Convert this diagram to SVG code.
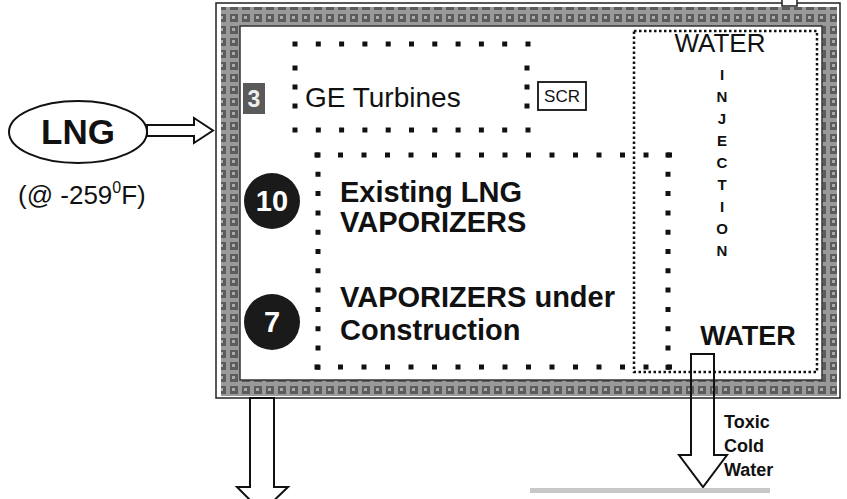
<svg xmlns="http://www.w3.org/2000/svg" width="847" height="499" viewBox="0 0 847 499">
<defs>
<pattern id="bandpat" width="12" height="12" patternUnits="userSpaceOnUse">
<rect width="12" height="12" fill="#9a9a9a"/>
<rect x="2" y="2" width="8" height="8" fill="#5c5c5c"/>
<rect x="4" y="4" width="3" height="3" fill="#aaaaaa"/>
</pattern>
</defs>
<style>
text{font-family:"Liberation Sans",Arial,sans-serif;fill:#111}
.b{font-weight:bold}
.big{stroke:#111;stroke-width:5;fill:none}
.dot{fill:#111}
.ln{fill:none;stroke:#111;stroke-width:2}
.arrow{fill:#fff;stroke:#111;stroke-width:2;stroke-linejoin:miter}
</style>
<rect width="847" height="499" fill="#fff"/>

<g id="frame">
<rect x="216" y="3" width="624" height="395" fill="none" stroke="#222" stroke-width="1.5"/>
<path d="M221 7H837V396H221Z M240 26V380H822V26Z" fill="url(#bandpat)" fill-rule="evenodd"/>
<rect x="240" y="26" width="582" height="354" fill="#fff" stroke="#333" stroke-width="1.5"/>
<rect x="782" y="-1" width="15" height="7" fill="#fff" stroke="#222" stroke-width="1.5"/>
</g>

<g id="lng">
<ellipse cx="78" cy="132" rx="69" ry="31" fill="#fff" stroke="#111" stroke-width="2"/>
<text x="78" y="144" class="b" font-size="35" text-anchor="middle">LNG</text>
</g>

<g id="temperature">
<text x="18" y="204" font-size="26">(@ -259<tspan font-size="16" dy="-11">0</tspan><tspan dy="11">F)</tspan></text>
</g>

<g id="ge-turbines">
<rect x="243" y="83" width="22" height="31" fill="#5a5a5a"/>
<text x="254" y="107" class="b" font-size="23" text-anchor="middle" style="fill:#eee">3</text>
<path class="big" d="M292.5 44H531M292.5 130H531" stroke-dasharray="5 18.3"/>
<rect class="dot" x="292.5" y="65.5" width="5" height="5"/>
<rect class="dot" x="292.5" y="84.5" width="5" height="5"/>
<rect class="dot" x="292.5" y="103.5" width="5" height="5"/>
<rect class="dot" x="524.5" y="65.5" width="5" height="5"/>
<rect class="dot" x="524.5" y="84.5" width="5" height="5"/>
<rect class="dot" x="524.5" y="103.5" width="5" height="5"/>
<text x="305" y="107" font-size="28">GE Turbines</text>
</g>

<g id="scr">
<rect x="538" y="82" width="48" height="28" fill="#fff" stroke="#111" stroke-width="1.8"/>
<text x="562" y="102" font-size="17" text-anchor="middle">SCR</text>
</g>

<g id="water-injection">
<rect x="634" y="31" width="183" height="341" fill="none" stroke="#111" stroke-width="2.5" stroke-dasharray="2.5 2.5"/>
<text x="720" y="52" font-size="26" text-anchor="middle">WATER</text>
<g class="b" font-size="15" text-anchor="middle">
<text x="722" y="80">I</text>
<text x="722" y="102">N</text>
<text x="722" y="124">J</text>
<text x="722" y="146">E</text>
<text x="722" y="168">C</text>
<text x="722" y="190">T</text>
<text x="722" y="212">I</text>
<text x="722" y="234">O</text>
<text x="722" y="256">N</text>
</g>
<text x="748" y="345" class="b" font-size="27" text-anchor="middle">WATER</text>
</g>

<g id="vaporizers">
<path class="big" d="M314.5 155H672M314.5 367H672" stroke-dasharray="5 18.5"/>
<path class="big" d="M318 152.5V370M668 152.5V370" stroke-dasharray="5 14.3"/>
<circle cx="272" cy="201" r="28" fill="#1a1a1a"/>
<text x="272" y="211" class="b" font-size="29" text-anchor="middle" style="fill:#fff">10</text>
<circle cx="272" cy="322" r="28" fill="#1a1a1a"/>
<text x="272" y="332" class="b" font-size="29" text-anchor="middle" style="fill:#fff">7</text>
<text x="340" y="202" class="b" font-size="29">Existing LNG</text>
<text x="340" y="232" class="b" font-size="29">VAPORIZERS</text>
<text x="340" y="307" class="b" font-size="29">VAPORIZERS under</text>
<text x="340" y="340" class="b" font-size="29"> Construction</text>
</g>

<g id="connectors">
<polygon class="arrow" points="147,125 194,125 194,118 213,130.5 194,143 194,136 147,136"/>
<polygon class="arrow" points="250,398 250,487 237,487 262,512 288,487 274,487 274,398"/>
<path class="ln" d="M691 354H714V455H727L703 487L679 455H691Z" stroke-linejoin="miter"/>
</g>

<g id="outfall">
<rect x="530" y="488" width="240" height="5" fill="#c8c8c8"/>
</g>

<g id="toxic-label" class="b" font-size="18">
<text x="724" y="428" class="b">Toxic</text>
<text x="724" y="452" class="b">Cold</text>
<text x="724" y="476" class="b">Water</text>
</g>
</svg>
